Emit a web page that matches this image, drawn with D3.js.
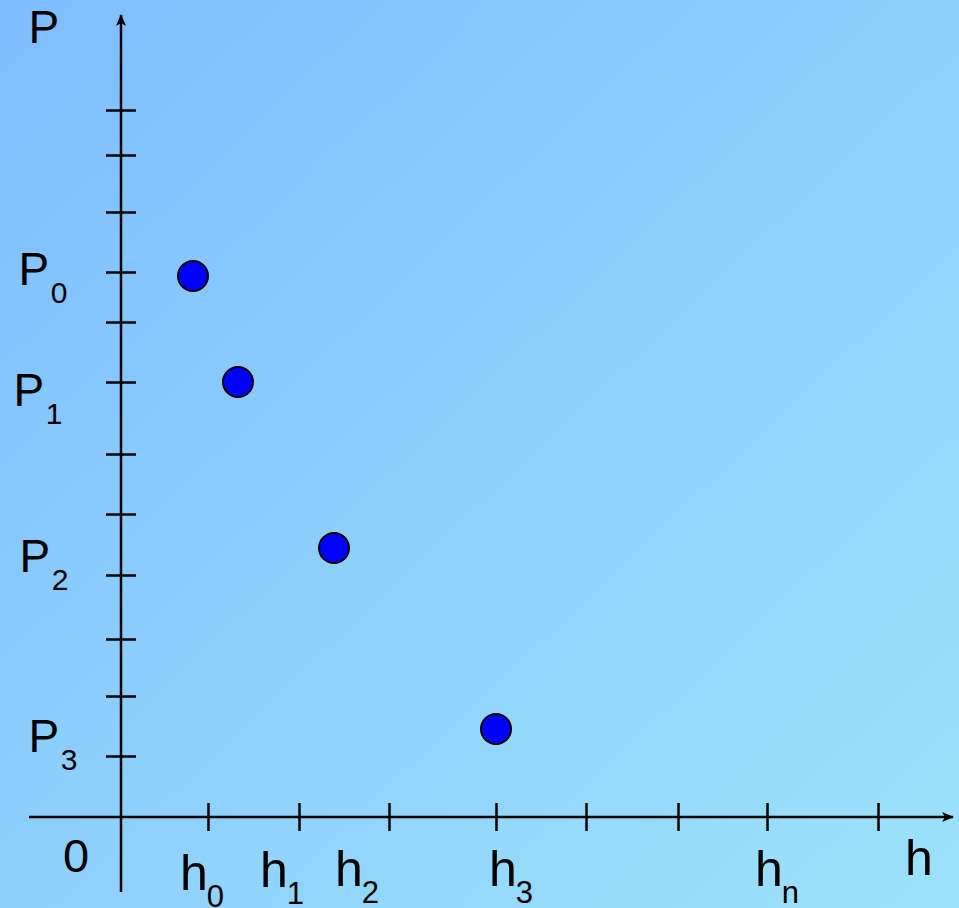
<!DOCTYPE html>
<html>
<head>
<meta charset="utf-8">
<script src="https://cdn.jsdelivr.net/npm/d3@7"></script>
<style>
  html, body { margin: 0; padding: 0; }
  svg { display: block; }
  text { font-family: "Liberation Sans", Arial, sans-serif; fill: #000; }
</style>
</head>
<body>
<div id="chart"></div>
<script>
// data (axis units, origin at 0,0)
var hTicks = [8.7, 17.8, 26.8, 37.5, 46.5, 55.7, 64.6, 75.7];
var pTicks = [70.7, 66.2, 60.5, 54.5, 49.5, 43.5, 36.3, 30.3, 24.2, 17.8, 12.1, 6.1];
var pointsH = [7.2, 11.7, 21.3, 37.5];
var pointsP = [54.1, 43.5, 26.9, 8.8];
var hLabels = ["0", "1", "2", "3", "n"];
var hLabelAt = [5.9, 13.9, 21.4, 36.8, 63.4];
var pLabels = ["0", "1", "2", "3"];
var pLabelAt = [53.2, 41.1, 24.5, 6.5];

// set the dimensions
var width = 959, height = 908;
var originX = 121, originY = 817;

// scales: 10px per unit
var x = d3.scaleLinear().domain([0, 83.2]).range([originX, originX + 832]);
var y = d3.scaleLinear().domain([0, 80.2]).range([originY, originY - 802]);

var svg = d3.select("#chart").append("svg")
  .attr("width", width)
  .attr("height", height);

var defs = svg.append("defs");
var grad = defs.append("linearGradient")
  .attr("id", "bg")
  .attr("x1", "0%").attr("y1", "0%")
  .attr("x2", "100%").attr("y2", "100%");
grad.append("stop").attr("offset", "0%").attr("stop-color", "#7fbdff");
grad.append("stop").attr("offset", "100%").attr("stop-color", "#9de2fa");

defs.append("marker")
  .attr("id", "arrow")
  .attr("viewBox", "0 0 12 10")
  .attr("refX", 11).attr("refY", 5)
  .attr("markerWidth", 12).attr("markerHeight", 10)
  .attr("markerUnits", "userSpaceOnUse")
  .attr("orient", "auto")
  .append("path")
  .attr("d", "M0,0 L12,5 L0,10 L3,5 Z")
  .attr("fill", "#000");

svg.append("rect")
  .attr("width", width).attr("height", height)
  .attr("fill", "url(#bg)");

// axes lines with arrows
svg.append("line")
  .attr("x1", x(-9.2)).attr("y1", y(0))
  .attr("x2", x(83.2)).attr("y2", y(0))
  .attr("stroke", "#000").attr("stroke-width", 2.5)
  .attr("marker-end", "url(#arrow)");

svg.append("line")
  .attr("x1", x(0)).attr("y1", y(-7.5))
  .attr("x2", x(0)).attr("y2", y(80.2))
  .attr("stroke", "#000").attr("stroke-width", 2.5)
  .attr("marker-end", "url(#arrow)");

// Add the X ticks
var gx = svg.append("g")
  .attr("transform", "translate(0," + originY + ")")
  .call(d3.axisBottom(x).tickValues(hTicks).tickSize(14).tickFormat(""));
gx.select(".domain").remove();
gx.selectAll(".tick line").attr("y1", -14).attr("stroke", "#000").attr("stroke-width", 2.5);

// Add the Y ticks
var gy = svg.append("g")
  .attr("transform", "translate(" + originX + ",0)")
  .call(d3.axisLeft(y).tickValues(pTicks).tickSize(15).tickFormat(""));
gy.select(".domain").remove();
gy.selectAll(".tick line").attr("x1", 15).attr("stroke", "#000").attr("stroke-width", 2.5);

// points
svg.selectAll(".pt")
  .data(pointsH)
  .enter().append("circle")
  .attr("class", "pt")
  .attr("cx", function(d) { return x(d); })
  .attr("cy", function(d, i) { return y(pointsP[i]); })
  .attr("r", 15)
  .attr("fill", "#0000ff")
  .attr("stroke", "#000")
  .attr("stroke-width", 2);

// axis titles
svg.append("text")
  .attr("x", 28.5).attr("y", 43)
  .style("font-size", "46px")
  .text("P");

svg.append("text")
  .attr("x", 905).attr("y", 875)
  .style("font-size", "50px")
  .text("h");

svg.append("text")
  .attr("x", 63).attr("y", 872)
  .style("font-size", "47px")
  .text("0");

// P labels
var pl = svg.selectAll(".plab")
  .data(pLabels)
  .enter().append("text")
  .attr("class", "plab")
  .attr("x", function(d, i) { return [18.5, 13.5, 19.5, 28.5][i]; })
  .attr("y", function(d, i) { return y(pLabelAt[i]); })
  .style("font-size", "46px")
  .text("P");
pl.append("tspan")
  .attr("dx", 1.5).attr("dy", 18)
  .style("font-size", "30px")
  .text(function(d) { return d; });

// h labels
var hl = svg.selectAll(".hlab")
  .data(hLabels)
  .enter().append("text")
  .attr("class", "hlab")
  .attr("x", function(d, i) { return x(hLabelAt[i]); })
  .attr("y", function(d, i) { return [890, 887, 886, 886, 886][i]; })
  .style("font-size", "50px")
  .text("h");
hl.append("tspan")
  .attr("dx", -1).attr("dy", 17)
  .style("font-size", "31px")
  .text(function(d) { return d; });
</script>
</body>
</html>
